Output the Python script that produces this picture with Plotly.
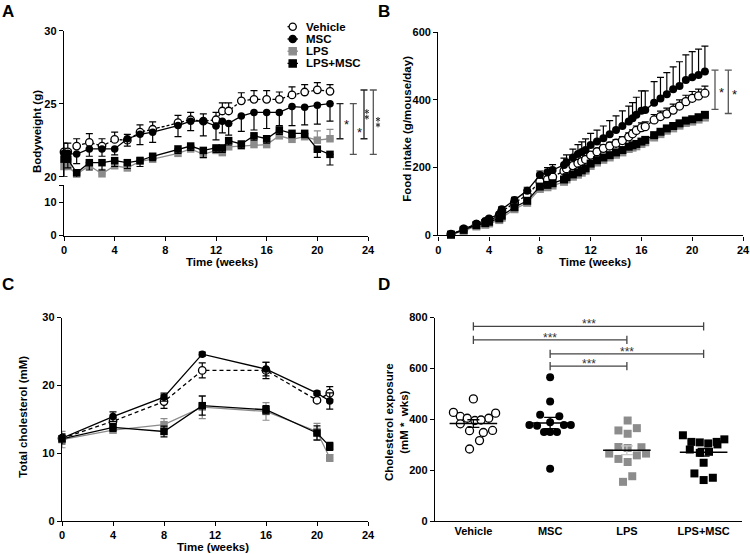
import math
import plotly.graph_objects as go

W, H = 750, 554
FONT = "Liberation Sans, Arial, sans-serif"

groups = ["Vehicle", "MSC", "LPS", "LPS+MSC"]

# ---------------- Panel A: bodyweight (g) ----------------
weeks_a = [0, 0.3, 1, 2, 3, 4, 5, 6, 7, 9, 10, 11, 12, 12.5, 13, 14, 15, 16, 17, 18, 19, 20, 21]
bw_vehicle = [21.7, 21.7, 22.1, 22.35, 22.1, 22.55, 22.5, 23.05, 23.25, 23.7, 23.9, 23.8, 23.9, 24.5, 24.5,
              25.2, 25.3, 25.3, 25.3, 25.6, 25.8, 25.95, 25.85]
bw_vehicle_sem = [0.6, 0.6, 0.5, 0.6, 0.5, 0.5, 0.4, 0.5, 0.5, 0.5, 0.5, 0.5, 0.5, 0.55, 0.55,
                  0.55, 0.6, 0.6, 0.5, 0.55, 0.5, 0.5, 0.45]
bw_msc = [21.6, 21.6, 21.55, 21.9, 21.9, 21.9, 22.6, 22.9, 23.05, 23.5, 23.8, 23.8, 23.47, 23.8, 23.65,
          24.15, 24.4, 24.4, 24.4, 24.8, 24.75, 24.9, 25.0]
bw_msc_sem = [0.8, 0.8, 0.65, 0.5, 0.5, 0.4, 0.5, 0.7, 0.7, 0.75, 0.65, 1.0, 0.95, 0.8, 0.8,
              1.05, 1.2, 1.1, 0.9, 1.3, 1.2, 1.3, 1.2]
bw_lps = [20.7, 20.7, 20.18, 20.75, 20.2, 20.75, 20.6, 21.05, 21.2, 21.6, 21.9, 21.53, 21.8, 21.65, 22.05,
          22.1, 22.2, 22.2, 22.8, 22.56, 22.74, 22.5, 22.6]
bw_lps_sem = [0.4, 0.4, 0.3, 0.3, 0.3, 0.3, 0.3, 0.3, 0.3, 0.3, 0.3, 0.3, 0.3, 0.3, 0.3,
              0.3, 0.3, 0.3, 0.3, 0.3, 0.3, 0.64, 0.64]
bw_lpsmsc = [21.2, 21.2, 20.27, 20.96, 20.96, 21.1, 20.96, 21.1, 21.4, 21.9, 22.1, 21.8, 21.97, 21.97, 22.47,
             22.24, 22.8, 22.6, 23.2, 22.97, 22.97, 21.88, 21.53]
bw_lpsmsc_sem = [1.2, 0.6, 0.4, 0.5, 0.5, 0.4, 0.4, 0.4, 0.3, 0.3, 0.3, 0.5, 0.3, 0.3, 0.3,
                 0.3, 0.3, 0.3, 0.3, 0.3, 0.3, 0.55, 0.73]

# ---------------- Panel B: cumulative food intake ----------------
weeks_b = [1, 2, 3, 3.7, 4, 4.8, 5, 6, 7, 8, 8.6, 9, 9.9, 10.1, 10.6, 11, 11.3, 11.6, 12, 12.5, 13, 13.5,
           14, 14.5, 15, 15.3, 15.6, 16, 16.3, 17, 17.5, 18, 18.5, 19, 19.5, 20, 20.5, 21]
food_vehicle = [3, 18, 32, 38, 44, 58, 70, 96, 119, 159, 165, 172, 190, 197, 206, 213, 218, 224, 237, 247, 257, 264,
                272, 280, 291, 300, 310, 318, 321, 341, 351, 359, 370, 382, 395, 405, 412, 420]
food_vehicle_sem = [1, 2, 3, 3, 4, 4, 5, 6, 6, 7, 7, 8, 8, 8, 9, 9, 9, 10, 10, 10, 10, 11,
                    11, 12, 12, 12, 13, 14, 14, 16, 16, 17, 18, 18, 19, 20, 20, 21]
food_msc = [3, 19, 34, 42, 50, 62, 77, 104, 132, 178, 186, 193, 208, 216, 230, 240, 246, 252, 267, 277, 287, 299,
            311, 323, 336, 346, 356, 368, 370, 392, 404, 417, 432, 441, 459, 467, 474, 484]
food_msc_sem = [1, 3, 4, 4, 5, 6, 7, 8, 10, 12, 14, 16, 20, 22, 25, 28, 30, 33, 34, 34, 36, 40,
                42, 45, 46, 46, 52, 59, 57, 62, 63, 64, 66, 72, 74, 76, 76, 75]
food_lps = [1, 13, 26, 31, 35, 45, 52, 77, 96, 137, 142, 147, 158, 165, 173, 179, 185, 191, 205, 215, 223, 230,
            238, 245, 255, 259, 263, 270, 275, 289, 299, 309, 316, 324, 332, 336, 342, 348]
food_lpsmsc = [2, 16, 30, 36, 40, 50, 58, 83, 102, 144, 149, 154, 165, 172, 180, 186, 192, 198, 212, 222, 230, 237,
               245, 252, 262, 266, 270, 277, 282, 296, 306, 316, 323, 331, 339, 343, 349, 356]

# ---------------- Panel C: total cholesterol (mM) ----------------
weeks_c = [0, 4, 8, 11, 16, 20, 21]
chol_vehicle = [12.2, 14.7, 17.6, 22.2, 22.2, 17.8, 18.85]
chol_vehicle_sem = [0.5, 0.5, 1.0, 1.1, 1.2, 0.3, 0.95]
chol_msc = [12.2, 15.4, 18.25, 24.6, 22.4, 18.85, 17.7]
chol_msc_sem = [0.4, 0.7, 0.6, 0.3, 1.0, 0.3, 1.2]
chol_lps = [12.0, 13.4, 14.2, 16.8, 16.15, 13.2, 9.3]
chol_lps_sem = [1.2, 0.4, 0.9, 1.7, 1.3, 1.2, 0.5]
chol_lpsmsc = [12.1, 13.8, 13.2, 17.0, 16.4, 12.97, 11.0]
chol_lpsmsc_sem = [0.75, 0.6, 0.8, 1.4, 0.6, 1.05, 0.6]

# ---------------- Panel D: cholesterol exposure (mM * wks) ----------------
exp_vehicle = [480, 427, 424, 411, 404, 404, 395, 397, 382, 355, 356, 348, 316, 283]
jit_vehicle = [0.0, -0.26, 0.29, -0.17, -0.08, 0.2, 0.02, 0.1, -0.17, -0.05, 0.25, 0.13, 0.08, -0.05]
exp_msc = [565, 470, 418, 412, 377, 374, 388, 377, 377, 350, 350, 350, 205]
jit_msc = [0.0, 0.0, -0.13, 0.12, -0.27, -0.17, 0.0, 0.18, 0.27, -0.08, 0.0, 0.09, 0.0]
exp_lps = [395, 356, 343, 365, 291, 287, 290, 265, 258, 265, 244, 232, 176, 154]
jit_lps = [0.01, -0.11, 0.01, 0.13, -0.11, 0.01, 0.19, -0.23, 0.13, 0.25, -0.11, 0.01, 0.07, -0.05]
exp_lpsmsc = [337, 311, 309, 305, 311, 321, 301, 281, 268, 272, 229, 187, 170, 161]
jit_lpsmsc = [-0.27, -0.16, -0.05, 0.06, 0.17, 0.27, 0.18, -0.18, -0.05, 0.07, 0.0, -0.12, 0.12, 0.0]
exp_mean = [383, 385, 278, 270]
exp_sem = [15, 22, 17, 15]

# significance comparisons
sig_a = [("MSC", "LPS", "*"), ("MSC", "LPS+MSC", "*"), ("Vehicle", "LPS", "**"), ("Vehicle", "LPS+MSC", "**")]
sig_b = [(488, 372, "*"), (488, 360, "*")]
sig_d = [(0, 3, 765, "***"), (0, 2, 712, "***"), (1, 3, 657, "***"), (1, 2, 609, "***")]

# ---------------- styles ----------------
GRAY = "#8c8c8c"
style = {
    "Vehicle": dict(symbol="circle", fill="white", edge="black", line="black", dash="3px,2px", err="black"),
    "MSC": dict(symbol="circle", fill="black", edge="black", line="black", dash="solid", err="black"),
    "LPS": dict(symbol="square", fill=GRAY, edge=GRAY, line=GRAY, dash="solid", err=GRAY),
    "LPS+MSC": dict(symbol="square", fill="black", edge="black", line="black", dash="solid", err="black"),
}


def px_x(p):
    return p / W


def px_y(p):
    return 1 - p / H


fig = go.Figure()


def add_series(x, y, grp, xa, ya, up=None, down=None, size=7.5, dash=None, mode="lines+markers"):
    st = style[grp]
    err = None
    if up is not None or down is not None:
        n = len(y)
        err = dict(type="data", symmetric=False,
                   array=up if up is not None else [0] * n,
                   arrayminus=down if down is not None else [0] * n,
                   color=st["err"], thickness=1.2, width=3.5)
    fig.add_trace(go.Scatter(
        x=x, y=y, mode=mode, xaxis=xa, yaxis=ya, cliponaxis=False, name=grp, showlegend=False,
        line=dict(color=st["line"], width=1.3, dash=dash or st["dash"]),
        marker=dict(symbol=st["symbol"], size=size, color=st["fill"],
                    line=dict(color=st["edge"], width=1.3 if st["fill"] == "white" else 0)),
        error_y=err))


# Panel A
add_series(weeks_a, bw_vehicle, "Vehicle", "x", "y", up=bw_vehicle_sem)
add_series(weeks_a, bw_msc, "MSC", "x", "y", down=bw_msc_sem)
add_series(weeks_a, bw_lps, "LPS", "x", "y", up=bw_lps_sem)
add_series(weeks_a, bw_lpsmsc, "LPS+MSC", "x", "y", down=bw_lpsmsc_sem)
# empty trace so that the lower (broken) y-axis segment exists as a subplot
fig.add_trace(go.Scatter(x=[None], y=[None], xaxis="x", yaxis="y2", showlegend=False, hoverinfo="skip"))

# Panel B
add_series(weeks_b, food_vehicle, "Vehicle", "x2", "y3", up=food_vehicle_sem, size=8)
add_series(weeks_b, food_msc, "MSC", "x2", "y3", up=food_msc_sem, size=8)
add_series(weeks_b, food_lps, "LPS", "x2", "y3", size=8)
add_series(weeks_b, food_lpsmsc, "LPS+MSC", "x2", "y3", size=8)

# Panel C
add_series(weeks_c, chol_vehicle, "Vehicle", "x3", "y4", up=chol_vehicle_sem, down=chol_vehicle_sem, dash="4px,3px")
add_series(weeks_c, chol_msc, "MSC", "x3", "y4", up=chol_msc_sem, down=chol_msc_sem)
add_series(weeks_c, chol_lps, "LPS", "x3", "y4", up=chol_lps_sem, down=chol_lps_sem)
add_series(weeks_c, chol_lpsmsc, "LPS+MSC", "x3", "y4", up=chol_lpsmsc_sem, down=chol_lpsmsc_sem)

# Panel D scatter
d_sets = [(exp_vehicle, jit_vehicle), (exp_msc, jit_msc), (exp_lps, jit_lps), (exp_lpsmsc, jit_lpsmsc)]
for i, (grp, (vals, jit)) in enumerate(zip(groups, d_sets)):
    add_series([i + j for j in jit], vals, grp, "x4", "y5", size=8, mode="markers")
for i, grp in enumerate(groups):
    sem_col = "#c8c8c8" if grp == "LPS" else "black"
    fig.add_trace(go.Scatter(
        x=[i], y=[exp_mean[i]], mode="markers", xaxis="x4", yaxis="y5", showlegend=False,
        marker=dict(size=1, color="rgba(0,0,0,0)"),
        error_y=dict(type="data", array=[exp_sem[i]], color=sem_col, thickness=1.3, width=6)))
    fig.add_trace(go.Scatter(
        x=[i - 0.31, i + 0.31], y=[exp_mean[i]] * 2, mode="lines", xaxis="x4", yaxis="y5",
        showlegend=False, line=dict(color="black", width=1.5)))

# ---------------- axes ----------------
tickfont = dict(family=FONT, size=11, color="black", weight="bold")
base = dict(showgrid=False, zeroline=False, showline=True, linecolor="black", linewidth=1.4,
            ticks="outside", ticklen=4, tickwidth=1.4, tickcolor="black", tickfont=tickfont,
            automargin=False, fixedrange=True)

A_TOP, A_BOT = 30.7, 176.7  # pixel rows of the upper bodyweight segment (30 .. 20 g)
fig.update_layout(
    width=W, height=H, margin=dict(l=0, r=0, t=0, b=0, pad=0, autoexpand=False),
    plot_bgcolor="white", paper_bgcolor="white", showlegend=False,
    font=dict(family=FONT, size=11.5, color="black"),
    xaxis=dict(base, domain=[px_x(64), px_x(368)], range=[0, 24], anchor="y2", tickvals=list(range(0, 25, 4))),
    yaxis=dict(base, domain=[px_y(A_BOT), px_y(A_TOP)], range=[20, 30], anchor="x", tickvals=[20, 25, 30]),
    yaxis2=dict(base, domain=[px_y(235.5), px_y(185.3)], range=[0, 15], anchor="x",
                tickvals=[0, 10, 15], ticktext=["0", "10", ""]),
    xaxis2=dict(base, domain=[px_x(438.3), px_x(743)], range=[0, 24], anchor="y3", tickvals=list(range(0, 25, 4))),
    yaxis3=dict(base, domain=[px_y(235.3), px_y(32.3)], range=[0, 600], anchor="x2", tickvals=[0, 200, 400, 600]),
    xaxis3=dict(base, domain=[px_x(62), px_x(368)], range=[0, 24], anchor="y4", tickvals=list(range(0, 25, 4))),
    yaxis4=dict(base, domain=[px_y(521), px_y(317.5)], range=[0, 30], anchor="x3", tickvals=[0, 10, 20, 30]),
    xaxis4=dict(base, domain=[px_x(435), px_x(742)], range=[-0.5, 3.5], anchor="y5",
                tickvals=[0, 1, 2, 3], ticktext=groups, ticks=""),
    yaxis5=dict(base, domain=[px_y(521), px_y(317.5)], range=[0, 800], anchor="x4",
                tickvals=[0, 200, 400, 600, 800]),
)

annotations = []
shapes = []


def text(x, y, s, size=11.5, angle=0, xanchor="center", yanchor="middle", color="black", xref="paper", yref="paper"):
    annotations.append(dict(x=x, y=y, xref=xref, yref=yref, text=s, showarrow=False, textangle=angle,
                            xanchor=xanchor, yanchor=yanchor, borderpad=0,
                            font=dict(family=FONT, size=size, color=color, weight="bold")))


# panel letters
text(px_x(7.5), px_y(12), "A", size=17)
text(px_x(384), px_y(12), "B", size=17)
text(px_x(7.5), px_y(284), "C", size=17)
text(px_x(384), px_y(284), "D", size=17)

# axis titles
text(px_x(37), px_y(132), "Bodyweight (g)", angle=-90)
text(px_x(221.7), px_y(261.5), "Time (weeks)")
text(px_x(406.7), px_y(129), "Food intake (g/mouse/day)", angle=-90)
text(px_x(595), px_y(262), "Time (weeks)")
text(px_x(22.7), px_y(417), "Total cholesterol (mM)", angle=-90)
text(px_x(213.3), 0, "Time (weeks)", yanchor="bottom")
text(px_x(397), px_y(422), "Cholesterol exposure<br>(mM *  wks)", angle=-90)

# legend (panel A)
leg_rows = [26.7, 39, 51.2, 63.4]
for grp, ry in zip(groups, leg_rows):
    st = style[grp]
    shapes.append(dict(type="line", xref="paper", yref="paper", x0=px_x(287.5), x1=px_x(298),
                       y0=px_y(ry), y1=px_y(ry),
                       line=dict(color=st["line"], width=1.3, dash="dot" if grp == "Vehicle" else "solid")))
    r = 3.6
    shapes.append(dict(type="circle" if st["symbol"] == "circle" else "rect", xref="paper", yref="paper",
                       x0=px_x(292.7 - r), x1=px_x(292.7 + r), y0=px_y(ry + r), y1=px_y(ry - r),
                       fillcolor=st["fill"], line=dict(color=st["edge"], width=1.3)))
    text(px_x(305), px_y(ry), grp, xanchor="left")

# significance brackets panel A
last_a = {"Vehicle": bw_vehicle[-1], "MSC": bw_msc[-1], "LPS": bw_lps[-1], "LPS+MSC": bw_lpsmsc[-1]}
br_x_a = [340, 353.3, 364, 373.3]
br_col_a = ["#222222", "#555555", "#222222", "#555555"]
a_px_per_unit = (A_BOT - A_TOP) / 10.0


def vbracket(xp, v0, v1, yref, color):
    shapes.append(dict(type="line", xref="paper", yref=yref, x0=px_x(xp), x1=px_x(xp), y0=v0, y1=v1,
                       line=dict(color=color, width=1.3)))
    for v in (v0, v1):
        shapes.append(dict(type="line", xref="paper", yref=yref, x0=px_x(xp - 3.5), x1=px_x(xp + 3.5),
                           y0=v, y1=v, line=dict(color=color, width=1.3)))


def star(xp, yv, yref, s="*", shift=0, size=13):
    annotations.append(dict(x=px_x(xp), y=yv, xref="paper", yref=yref, text=s,
                            showarrow=False, xanchor="left", yanchor="middle", yshift=shift, borderpad=0,
                            font=dict(family=FONT, size=size, color="#111111")))


def drawn_asterisk(cx, cy, yref, ppu, color="#333333", r=2.4):
    """small six-spoke asterisk drawn as a path (x in pixels -> paper, y in axis units)"""
    segs = []
    for ang in (90, 30, -30):
        dx = r * math.cos(math.radians(ang))
        dy = r * math.sin(math.radians(ang)) / ppu
        segs.append("M{:.5f},{:.4f} L{:.5f},{:.4f}".format(px_x(cx - dx), cy - dy, px_x(cx + dx), cy + dy))
    shapes.append(dict(type="path", xref="paper", yref=yref, path=" ".join(segs),
                       line=dict(color=color, width=1.0)))


star_dx_a = [2.5, 2.5, 2.8, 4.7]
for (g1, g2, stars), xp, col, dx in zip(sig_a, br_x_a, br_col_a, star_dx_a):
    v0, v1 = last_a[g1] + (0.09 if g1 == "Vehicle" else 0), last_a[g2]
    vbracket(xp, v0, v1, "y", col)
    mid = (v0 + v1) / 2
    if stars == "*":
        star(xp + dx, mid, "y", shift=-3)
    else:
        # vertical "**" (two stacked asterisks)
        gap = 2.8 / a_px_per_unit
        drawn_asterisk(xp + dx, mid + gap, "y", a_px_per_unit)
        drawn_asterisk(xp + dx, mid - gap, "y", a_px_per_unit)

# significance brackets panel B
for (v0, v1, stars), xp in zip(sig_b, [715, 728.3]):
    vbracket(xp, v0, v1, "y3", "#555555")
    star(xp + 2.5, (v0 + v1) / 2, "y3", shift=-3)

# significance brackets panel D
tick_d = 16
for c0, c1, yv, stars in sig_d:
    shapes.append(dict(type="line", xref="x4", yref="y5", x0=c0, x1=c1, y0=yv, y1=yv,
                       line=dict(color="#444444", width=1.3)))
    for c in (c0, c1):
        shapes.append(dict(type="line", xref="x4", yref="y5", x0=c, x1=c, y0=yv - tick_d, y1=yv + tick_d,
                           line=dict(color="#444444", width=1.3)))
    annotations.append(dict(x=(c0 + c1) / 2, y=yv, xref="x4", yref="y5", text=stars, showarrow=False,
                            xanchor="center", yanchor="bottom", yshift=-6, borderpad=0,
                            font=dict(family=FONT, size=12, color="#333333")))

fig.update_layout(annotations=annotations, shapes=shapes)
fig.write_html("out.html", config={"displayModeBar": False},
               post_script="document.body.style.margin='0px';document.body.style.padding='0px';")
